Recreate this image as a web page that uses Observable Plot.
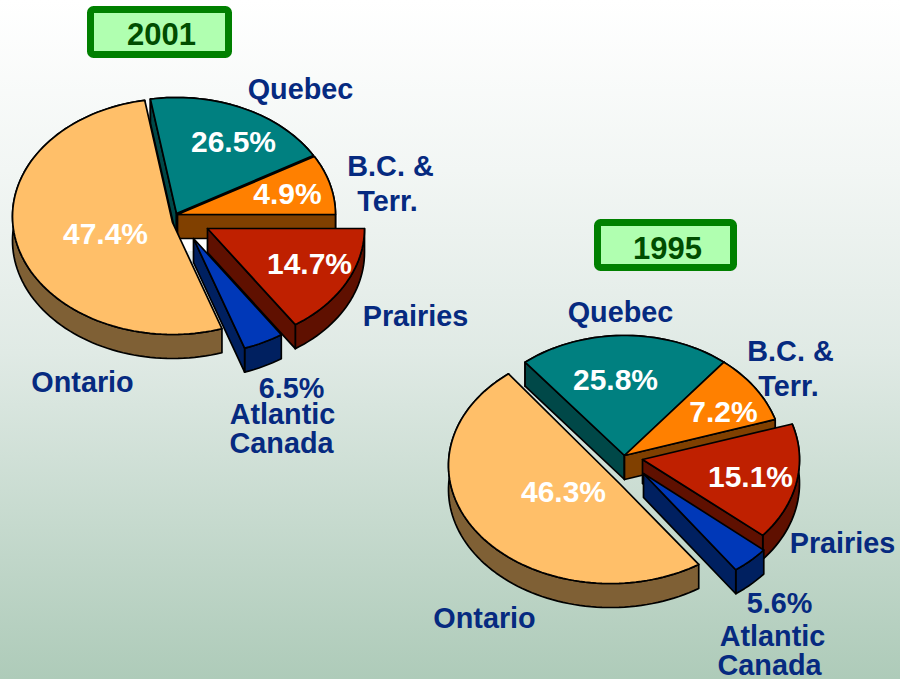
<!DOCTYPE html>
<html>
<head>
<meta charset="utf-8">
<script src="https://cdn.jsdelivr.net/npm/d3@7"></script>
<script src="https://cdn.jsdelivr.net/npm/@observablehq/plot@0.6"></script>
<style>
html,body{margin:0;padding:0;background:#fff}
#chart{width:909px;height:679px;overflow:hidden}
#chart svg{display:block}
</style>
</head>
<body>
<div id="chart"></div>
<script>
// ---- data ----
const regions = ["Ontario", "Quebec", "B.C. & Terr.", "Prairies", "Atlantic Canada"];
const shares2001 = [47.4, 26.5, 4.9, 14.7, 6.5];
const shares1995 = [46.3, 25.8, 7.2, 15.1, 5.6];
// the slices as drawn do not follow the printed shares: bounds are read off the picture (degrees clockwise from 12 o'clock)
const from2001 = [162, -9.5, 60, 90, 146];
const to2001   = [350, 60, 90, 146, 161];
const from1995 = [147, -39, 39, 72.5, 130];
const to1995   = [321, 39, 72.5, 130, 144];
const topColors  = ["#ffbf69", "#008080", "#ff8000", "#bf2000", "#0038b8"];
const sideColors = ["#7f6035", "#004848", "#804000", "#5f1000", "#002060"];
const paintOrder = [1, 2, 0, 3, 4];

// ---- layout of each pie ----
const W = 909, H = 679, DEPTH = 24;
const layout2001 = [
  {ax:172, ay:222, cx:172, cy:216, rx:160, ry:118},
  {ax:176, ay:213, cx:176, cy:213, rx:158, ry:116},
  {ax:177, ay:214, cx:177, cy:214, rx:158, ry:116},
  {ax:207, ay:228, cx:207, cy:228, rx:157, ry:116},
  {ax:193, ay:238, cx:193, cy:238, rx:157, ry:116}
];
const layout1995 = [
  {ax:620, ay:484, cx:610, cy:465, rx:162, ry:118},
  {ax:624, ay:455, cx:624, cy:455, rx:158, ry:120},
  {ax:624, ay:455, cx:624, cy:455, rx:158, ry:120},
  {ax:642, ay:459, cx:642, cy:459, rx:157, ry:118},
  {ax:643, ay:473, cx:643, cy:473, rx:157, ry:119}
];

const arc = (s, a, b, dy = 0) => {
  const n = Math.max(2, Math.ceil(Math.abs(b - a) / 2));
  return d3.range(n + 1).map(i => {
    const t = (a + (b - a) * i / n) * Math.PI / 180;
    return {x: s.cx + s.rx * Math.sin(t), y: s.cy - s.ry * Math.cos(t) + dy};
  });
};
const apex = (s, dy = 0) => ({x: s.ax, y: s.ay + dy});
const poly = (pts, fill) => Plot.line(pts, {x: "x", y: "y", fill, stroke: "#000", strokeWidth: 1.7, curve: "linear-closed", strokeLinejoin: "round"});
const sinDeg = d => Math.sin(d * Math.PI / 180);

function pieMarks(from, to, lay) {
  const marks = [];
  for (const i of paintOrder) {
    const s = lay[i], a = from[i], b = to[i];
    const A = arc(s, a, b), B = arc(s, a, b, DEPTH);
    const side = sideColors[i];
    marks.push(poly([...A, ...B.slice().reverse()], side));
    // a cut face is seen only when it turns towards the viewer
    if (sinDeg(a) < 0) marks.push(poly([apex(s), A[0], B[0], apex(s, DEPTH)], side));
    if (sinDeg(b) > 0) marks.push(poly([apex(s), A[A.length - 1], B[B.length - 1], apex(s, DEPTH)], side));
    marks.push(poly([apex(s), ...A], topColors[i]));
  }
  return marks;
}

const pct = v => v.toFixed(1) + "%";
const navy = "#062a80";
const nameRows = [
  {t:"Quebec", x:300, y:89}, {t:"B.C. &", x:390, y:166}, {t:"Terr.", x:387, y:201},
  {t:"Prairies", x:415, y:316}, {t:"Ontario", x:82, y:382},
  {t:pct(shares2001[4]), x:291, y:388}, {t:"Atlantic", x:282, y:414}, {t:"Canada", x:281, y:443},
  {t:"Quebec", x:620, y:312}, {t:"B.C. &", x:790, y:351}, {t:"Terr.", x:788, y:386},
  {t:"Prairies", x:842, y:543}, {t:"Ontario", x:484, y:618},
  {t:pct(shares1995[4]), x:779, y:603}, {t:"Atlantic", x:772, y:636}, {t:"Canada", x:769, y:665}
];
const valueRows = [
  {t:pct(shares2001[1]), x:233, y:142}, {t:pct(shares2001[2]), x:287, y:194},
  {t:pct(shares2001[0]), x:105, y:234}, {t:pct(shares2001[3]), x:309, y:264},
  {t:pct(shares1995[1]), x:615, y:380}, {t:pct(shares1995[2]), x:723, y:412},
  {t:pct(shares1995[0]), x:563, y:492}, {t:pct(shares1995[3]), x:750, y:477}
];
const yearBoxes = [
  {t:"2001", x1:90.5, x2:228.5, y1:9.5, y2:54.5, tx:161, ty:35},
  {t:"1995", x1:597.5, x2:733.5, y1:222.5, y2:267.5, tx:667, ty:249}
];
// the white backing that shows around the 2001 B.C. side face
const whiteGaps = [
  {x1:176, x2:338, y1:214, y2:240},
  {x1:176, x2:206, y1:240, y2:251}
];
const font = "Liberation Sans, Arial, sans-serif";
const textOpts = {x:"x", y:"y", text:"t", fontFamily:font, fontWeight:"bold", textAnchor:"middle", lineAnchor:"middle", stroke:"none"};

const chart = Plot.plot({
  width: W, height: H,
  marginTop: 0, marginRight: 0, marginBottom: 0, marginLeft: 0,
  x: {domain:[0, W], range:[0, W], axis:null},
  y: {domain:[0, H], range:[0, H], axis:null},
  style: {background:"linear-gradient(#ffffff 0%, #f2f6f4 25%, #e0eae5 52%, #aecbb9 100%) 0 0 / 900px 100% no-repeat", overflow:"hidden"},
  marks: [
    Plot.rect(whiteGaps, {x1:"x1", x2:"x2", y1:"y1", y2:"y2", fill:"#fff"}),
    ...pieMarks(from2001, to2001, layout2001),
    ...pieMarks(from1995, to1995, layout1995),
    Plot.rect(yearBoxes, {x1:"x1", x2:"x2", y1:"y1", y2:"y2", fill:"#b0ffb0", stroke:"#008000", strokeWidth:7, r:3}),
    Plot.text(yearBoxes, {...textOpts, x:"tx", y:"ty", fontSize:31, fill:"#004d00"}),
    Plot.text(nameRows, {...textOpts, fontSize:28.8, fill:navy}),
    Plot.text(valueRows, {...textOpts, fontSize:30, fill:"#fff"})
  ]
});
document.getElementById("chart").append(chart);
</script>
</body>
</html>
